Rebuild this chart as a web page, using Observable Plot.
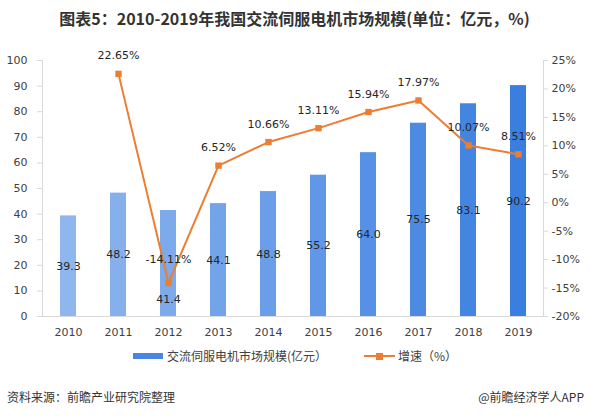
<!DOCTYPE html>
<html><head><meta charset="utf-8">
<script src="https://cdn.jsdelivr.net/npm/d3@7"></script>
<script src="https://cdn.jsdelivr.net/npm/@observablehq/plot@0.6"></script>
<style>
body{margin:0;background:#fff;width:589px;height:416px;overflow:hidden;position:relative;font-family:"Noto Sans CJK SC",sans-serif;}
#title{position:absolute;left:0;top:0;width:589px;height:36px;line-height:36px;text-align:center;font-weight:bold;font-size:16px;color:#333;}
#chart{position:absolute;left:0;top:40px;}
#legend{position:absolute;left:0;top:346px;width:589px;height:20px;font-size:12px;color:#404040;}
.lg{position:absolute;top:0;height:20px;line-height:20px;white-space:nowrap;}
#footer{position:absolute;top:388px;width:589px;height:18px;font-size:12px;color:#333;}
</style></head><body>
<div id="title">图表5：2010-2019年我国交流伺服电机市场规模(单位：亿元，%)</div>
<div id="chart"></div>
<div id="legend">
  <div class="lg" style="left:133px;"><svg width="31" height="20"><rect x="0" y="7" width="30" height="6" fill="#4a86e0"/></svg></div>
  <div class="lg" style="left:167px;">交流伺服电机市场规模(亿元）</div>
  <div class="lg" style="left:364px;"><svg width="32" height="20"><line x1="0" x2="31" y1="10" y2="10" stroke="#ed7d31" stroke-width="2"/><rect x="12" y="7" width="7" height="7" fill="#ed7d31"/></svg></div>
  <div class="lg" style="left:398px;">增速（%）</div>
</div>
<div id="footer">
  <div style="position:absolute;left:7px;top:0;">资料来源：前瞻产业研究院整理</div>
  <div style="position:absolute;right:5px;top:0;">@前瞻经济学人APP</div>
</div>
<script>
const years = ["2010","2011","2012","2013","2014","2015","2016","2017","2018","2019"];
const market = [39.3, 48.2, 41.4, 44.1, 48.8, 55.2, 64.0, 75.5, 83.1, 90.2];
const growth = [null, 22.65, -14.11, 6.52, 10.66, 13.11, 15.94, 17.97, 10.07, 8.51];
const leftTicks = [0, 10, 20, 30, 40, 50, 60, 70, 80, 90, 100];
const rightTicks = [-20, -15, -10, -5, 0, 5, 10, 15, 20, 25];

const pct = d3.scaleLinear([-20, 25], [0, 100]);
const data = years.map((y, i) => ({year: y, idx: i, market: market[i], growth: growth[i]}));
const gdata = data.filter(d => d.growth != null);
const font = "DejaVu Sans, sans-serif";

const chart = Plot.plot({
  width: 589,
  height: 306,
  marginTop: 20,
  marginBottom: 30,
  marginLeft: 42,
  marginRight: 46,
  style: {fontFamily: font, fontSize: "11px", color: "#595959", background: "transparent"},
  x: {domain: years, paddingInner: 0.68, paddingOuter: 0.34, label: null},
  y: {domain: [0, 100], label: null},
  color: {type: "linear", domain: [0, 9], range: ["#90b6ee", "#3a7fe0"]},
  marks: [
    Plot.axisY(leftTicks, {anchor: "left", tickSize: 5, tickPadding: 10, stroke: "#d9d9d9", fill: "#404040", label: null}),
    Plot.axisY(rightTicks.map(t => pct(t)), {anchor: "right", tickSize: 4, tickPadding: 4, stroke: "#d9d9d9", fill: "#404040", label: null,
      tickFormat: v => Math.round(pct.invert(v)) + "%"}),
    Plot.axisX({tickSize: 0, tickPadding: 12, fill: "#404040", label: null}),
    Plot.frame({anchor: "left", stroke: "#d9d9d9"}),
    Plot.frame({anchor: "right", stroke: "#d9d9d9"}),
    Plot.barY(data, {x: "year", y: "market", fill: "idx"}),
    Plot.ruleY([0], {stroke: "#d9d9d9"}),
    Plot.text(data.filter(d => d.year !== "2012"), {x: "year", y: d => d.market / 2, text: d => d.market.toFixed(1), fill: "#262626"}),
    Plot.text(data.filter(d => d.year === "2012"), {x: "year", y: d => d.market / 2, dy: 36, text: d => d.market.toFixed(1), fill: "#262626"}),
    Plot.line(gdata, {x: "year", y: d => pct(d.growth), stroke: "#ed7d31", strokeWidth: 2}),
    Plot.dot(gdata, {x: "year", y: d => pct(d.growth), symbol: "square", r: 3.6, fill: "#ed7d31", stroke: "none"}),
    Plot.text(gdata.filter(d => d.year !== "2012"), {x: "year", y: d => pct(d.growth), dy: -18, text: d => d.growth.toFixed(2) + "%", fill: "#262626"}),
    Plot.text(gdata.filter(d => d.year === "2012"), {x: "year", y: d => pct(d.growth), dy: -24, text: d => d.growth.toFixed(2) + "%", fill: "#262626"})
  ]
});
document.getElementById("chart").appendChild(chart);
</script>
</body></html>
